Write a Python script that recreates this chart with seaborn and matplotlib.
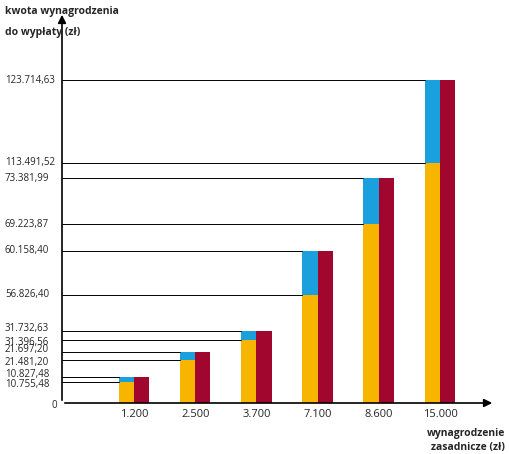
import seaborn as sns
import matplotlib.pyplot as plt
import matplotlib.transforms as mtransforms
import pandas as pd

sns.set_theme(style="white")
plt.rcParams['font.family'] = ['Open Sans', 'DejaVu Sans']

categories = ["1.200", "2.500", "3.700", "7.100", "8.600", "15.000"]
base_labels = ["10.755,48", "21.481,20", "31.396,56", "56.826,40", "69.223,87", "113.491,52"]
total_labels = ["10.827,48", "21.697,20", "31.732,63", "60.158,40", "73.381,99", "123.714,63"]
# schematic (non-linear) bar heights as drawn in the reference
base_h = [21, 43, 63, 108, 179, 240]
total_h = [26, 51, 72, 152, 225, 323]

ORANGE, BLUE, RED = "#F7B500", "#1AA0DC", "#A0062E"

fig = plt.figure(figsize=(5.10, 4.54), dpi=100)
W, H = 510, 454
ax = fig.add_axes([62 / W, 1 - 403 / H, (495 - 62) / W, (403 - 12) / H])
step = 61.2
xlim = (-(134 - 62) / step, 5 + (495 - 440) / step)

idx = list(range(len(categories)))
df_top = pd.DataFrame({"x": idx * 2, "h": total_h * 2, "s": ["a"] * 6 + ["b"] * 6})
df_low = pd.DataFrame({"x": idx * 2, "h": base_h + [0] * 6, "s": ["a"] * 6 + ["b"] * 6})
sns.barplot(data=df_top, x="x", y="h", hue="s", palette=[BLUE, RED], width=0.5,
            native_scale=True, ax=ax, legend=False, saturation=1, linewidth=0)
sns.barplot(data=df_low, x="x", y="h", hue="s", palette=[ORANGE, RED], width=0.5,
            native_scale=True, ax=ax, legend=False, saturation=1, linewidth=0)
ax.set_xlim(*xlim)
ax.set_ylim(0, 391)

trans = mtransforms.blended_transform_factory(fig.transFigure, ax.transData)
for i in idx:
    close = total_h[i] - base_h[i] < 12
    for h, lab, off in ((base_h[i], base_labels[i], -2.5 if close else 0),
                        (total_h[i], total_labels[i], 2.5 if close else 0)):
        ax.plot([xlim[0], i - 0.25], [h, h], color="black", lw=0.7, zorder=3)
        ax.text(5 / W, h + off, lab, transform=trans, fontsize=7, ha="left", va="center")

for s in ax.spines.values():
    s.set_visible(False)
ax.set_xticks(idx)
ax.set_xticklabels(categories, fontsize=8)
ax.tick_params(axis="x", length=0, pad=4)
ax.set_yticks([])
ax.set_xlabel("")
ax.set_ylabel("")

ax.annotate("", xy=(0, 1), xytext=(0, 0), xycoords="axes fraction",
            arrowprops=dict(arrowstyle="-|>", color="black", lw=1.2, mutation_scale=12))
ax.annotate("", xy=(1, 0), xytext=(0, 0), xycoords="axes fraction",
            arrowprops=dict(arrowstyle="-|>", color="black", lw=1.2, mutation_scale=12))

fig.text(57 / W, 1 - 406 / H, "0", fontsize=7, ha="right", va="center")
fig.text(5 / W, 1 - 6 / H, "kwota wynagrodzenia\ndo wypłaty (zł)", fontsize=7.5,
         fontweight="bold", ha="left", va="top", linespacing=2.2)
fig.text(505 / W, 1 - 428 / H, "wynagrodzenie\nzasadnicze (zł)", fontsize=7.5,
         fontweight="bold", ha="right", va="top", linespacing=1.4)

fig.savefig("out.png", dpi=100)
